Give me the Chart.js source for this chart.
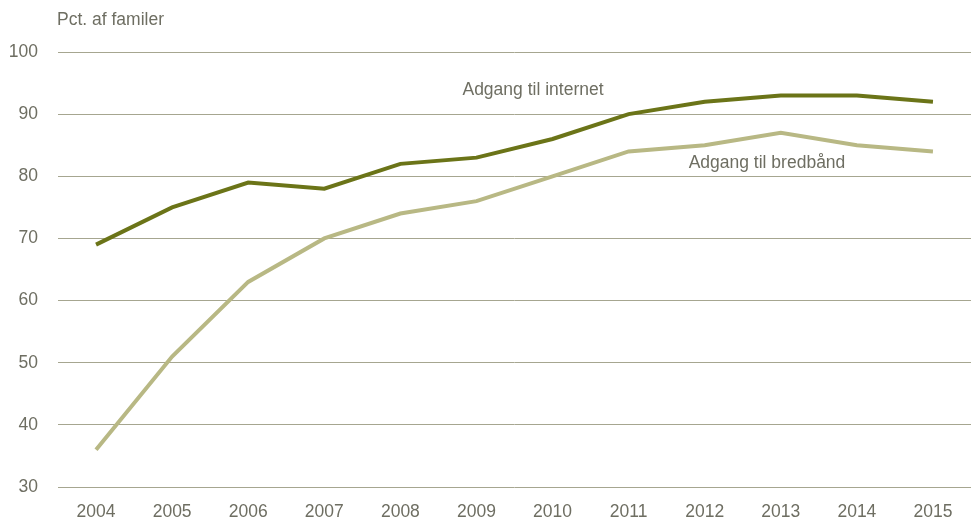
<!DOCTYPE html>
<html>
<head>
<meta charset="utf-8">
<script src="https://cdn.jsdelivr.net/npm/chart.js@4/dist/chart.umd.min.js"></script>
<style>
  html, body { margin: 0; padding: 0; background: #fff; }
  #wrap { width: 971px; height: 522px; position: relative; }
</style>
</head>
<body>
<div id="wrap"><canvas id="chart"></canvas></div>
<script>
const years = ['2004', '2005', '2006', '2007', '2008', '2009', '2010', '2011', '2012', '2013', '2014', '2015'];
const internet = [69, 75, 79, 78, 82, 83, 86, 90, 92, 93, 93, 92];
const broadband = [36, 51, 63, 70, 74, 76, 80, 84, 85, 87, 85, 84];
const yTicks = [30, 40, 50, 60, 70, 80, 90, 100];

const textColor = '#6e6e62';
const fontFamily = '"Liberation Sans", Arial, sans-serif';

// series labels and axis title drawn as text
const labelsPlugin = {
  id: 'labels',
  afterDraw(chart) {
    const c = chart.ctx;
    const y = chart.scales.y;
    c.save();
    c.fillStyle = textColor;
    c.font = '17.5px ' + fontFamily;
    c.textBaseline = 'middle';
    c.textAlign = 'left';
    c.fillText('Pct. af familer', chart.chartArea.left - 1, 20);
    c.textAlign = 'center';
    c.fillText('Adgang til internet', 533, y.getPixelForValue(93.8));
    c.fillText('Adgang til bredbånd', 767, y.getPixelForValue(82.1));
    c.restore();
  }
};

new Chart(document.getElementById('chart'), {
  type: 'line',
  data: {
    labels: years,
    datasets: [
      {
        label: 'Adgang til internet',
        data: internet,
        borderColor: '#6b7418',
        borderWidth: 4,
        pointRadius: 0,
        tension: 0
      },
      {
        label: 'Adgang til bredbånd',
        data: broadband,
        borderColor: '#b8b884',
        borderWidth: 4,
        pointRadius: 0,
        tension: 0
      }
    ]
  },
  options: {
    responsive: true,
    maintainAspectRatio: false,
    animation: false,
    layout: { padding: { top: 52, right: 0, bottom: 0, left: 0 } },
    plugins: {
      legend: { display: false },
      tooltip: { enabled: false }
    },
    scales: {
      x: {
        offset: true,
        grid: { display: false, drawTicks: false },
        border: { display: false },
        afterFit(axis) { axis.height = 35; },
        ticks: { color: textColor, font: { size: 17.5, family: fontFamily }, padding: 15, maxRotation: 0 }
      },
      y: {
        min: 30,
        max: 100,
        afterBuildTicks(axis) { axis.ticks = yTicks.map(v => ({ value: v })); },
        afterFit(axis) { axis.width = 58; },
        grid: { color: '#a6a690', lineWidth: 1, drawTicks: false },
        border: { display: false },
        ticks: { color: textColor, font: { size: 17.5, family: fontFamily }, padding: 20 }
      }
    }
  },
  plugins: [labelsPlugin]
});
</script>
</body>
</html>
